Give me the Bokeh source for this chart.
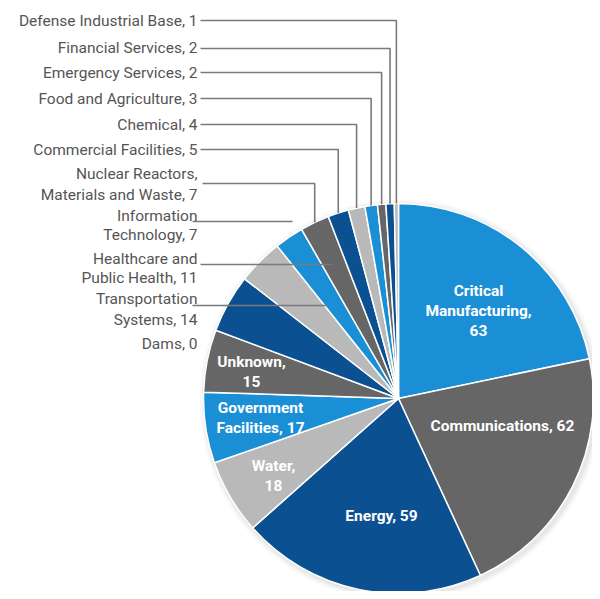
import math
from bokeh.plotting import figure
from bokeh.models import Range1d, ColumnDataSource
from bokeh.core.properties import value
from bokeh.embed import file_html
from bokeh.resources import INLINE

# ---------------- data ----------------
categories = ["Critical Manufacturing", "Communications", "Energy", "Water",
              "Government Facilities", "Unknown", "Transportation Systems",
              "Healthcare and Public Health", "Information Technology",
              "Nuclear Reactors, Materials and Waste", "Commercial Facilities",
              "Chemical", "Food and Agriculture", "Emergency Services",
              "Financial Services", "Defense Industrial Base", "Dams"]
counts = [63, 62, 59, 18, 17, 15, 14, 11, 7, 7, 5, 4, 3, 2, 2, 1, 0]
palette = ["#1b8fd6", "#666666", "#0b5091", "#b9b9b9"]

# label line splits (text content)
inside_lines = {
    "Critical Manufacturing": ["Critical", "Manufacturing,", "{v}"],
    "Communications": ["Communications, {v}"],
    "Energy": ["Energy, {v}"],
    "Water": ["Water,", "{v}"],
    "Government Facilities": ["Government", "Facilities, {v}"],
    "Unknown": ["Unknown,", "{v}"],
}
outside_lines = {
    "Defense Industrial Base": ["Defense Industrial Base, {v}"],
    "Financial Services": ["Financial Services, {v}"],
    "Emergency Services": ["Emergency Services, {v}"],
    "Food and Agriculture": ["Food and Agriculture, {v}"],
    "Chemical": ["Chemical, {v}"],
    "Commercial Facilities": ["Commercial Facilities, {v}"],
    "Nuclear Reactors, Materials and Waste": ["Nuclear Reactors,", "Materials and Waste, {v}"],
    "Information Technology": ["Information", "Technology, {v}"],
    "Healthcare and Public Health": ["Healthcare and", "Public Health, {v}"],
    "Transportation Systems": ["Transportation", "Systems, {v}"],
    "Dams": ["Dams, {v}"],
}

# ---------------- layout (image pixel coords) ----------------
W, H = 592, 591
IMG_H = 599
def Y(iy):
    return IMG_H - iy

CX, CY_IMG, R = 398, 398, 195
CY = Y(CY_IMG)

inside_pos = {
    "Critical Manufacturing": (478, [290, 310, 330]),
    "Communications": (502, [425]),
    "Energy": (381, [515]),
    "Water": (273, [465, 485]),
    "Government Facilities": (260, [407, 427]),
    "Unknown": (251, [361, 381]),
}
outside_y = {
    "Defense Industrial Base": [20],
    "Financial Services": [47],
    "Emergency Services": [72],
    "Food and Agriculture": [98],
    "Chemical": [124],
    "Commercial Facilities": [149],
    "Nuclear Reactors, Materials and Waste": [173, 194],
    "Information Technology": [215, 234],
    "Healthcare and Public Health": [258, 277],
    "Transportation Systems": [298, 319],
    "Dams": [343],
}
LABEL_RIGHT = 197
# elbow leaders: (horizontal y, start x) -> vertical at slice mid angle
elbow = {
    "Defense Industrial Base": (20, 200),
    "Financial Services": (48, 200),
    "Emergency Services": (72, 200),
    "Food and Agriculture": (98, 200),
    "Chemical": (124, 200),
    "Commercial Facilities": (149, 200),
    "Nuclear Reactors, Materials and Waste": (183, 202),
}
# straight leaders: (y, x0, x1)
straight = {
    "Information Technology": (221, 192, 292),
    "Healthcare and Public Health": (264, 200, 332),
    "Transportation Systems": (305, 192, 327),
}

p = figure(width=W, height=H, output_backend="svg", toolbar_location=None,
           x_range=Range1d(0, W), y_range=Range1d(IMG_H - H, IMG_H),
           min_border=0)
p.axis.visible = False
p.grid.visible = False
p.outline_line_color = None
p.background_fill_color = "white"
p.border_fill_color = "white"

total = sum(counts)
starts, ends, cols, mids = [], [], [], {}
cum = 0
for i, (c, v) in enumerate(zip(categories, counts)):
    a0 = math.pi / 2 - 2 * math.pi * cum / total
    cum += v
    a1 = math.pi / 2 - 2 * math.pi * cum / total
    mids[c] = (a0 + a1) / 2
    if v > 0:
        starts.append(a0)
        ends.append(a1)
        cols.append(palette[i % 4])

# soft shadow
for k, a in [(6, 0.05), (4, 0.07), (2, 0.09)]:
    p.circle(x=[CX + 2], y=[CY - 2], radius=R + k, fill_color="#888888",
             fill_alpha=a, line_color=None)

src = ColumnDataSource(dict(start=starts, end=ends, color=cols))
p.wedge(x=CX, y=CY, radius=R, start_angle="start", end_angle="end",
        direction="clock", fill_color="color", line_color="white",
        line_width=1.5, source=src)

# leader lines
xs, ys = [], []
for c, (hy, x0) in elbow.items():
    a = mids[c]
    vx = CX + R * math.cos(a)
    edge_y_img = CY_IMG - math.sqrt(max(R * R - (vx - CX) ** 2, 0))
    xs.append([x0, vx, vx])
    ys.append([Y(hy), Y(hy), Y(edge_y_img)])
for c, (hy, x0, x1) in straight.items():
    xs.append([x0, x1])
    ys.append([Y(hy), Y(hy)])
p.multi_line(xs=xs, ys=ys, line_color="#7a7a7a", line_width=1.6)

# outside labels
tx, ty, tt = [], [], []
for c, v in zip(categories, counts):
    if c in outside_lines:
        for line, iy in zip(outside_lines[c], outside_y[c]):
            tx.append(LABEL_RIGHT)
            ty.append(Y(iy))
            tt.append(line.format(v=v))
p.text(x=tx, y=ty, text=tt, text_align="right", text_baseline="middle",
       text_font=value("Roboto"), text_font_size="15.5px", text_color="#555555")

# inside labels
ix, iy_, it = [], [], []
for c, v in zip(categories, counts):
    if c in inside_lines:
        x, ylist = inside_pos[c]
        for line, yy in zip(inside_lines[c], ylist):
            ix.append(x)
            iy_.append(Y(yy))
            it.append(line.format(v=v))
p.text(x=ix, y=iy_, text=it, text_align="center", text_baseline="middle",
       text_font=value("Roboto"), text_font_size="15.5px", text_font_style="bold",
       text_color="white")

open("out.html", "w").write(file_html(p, INLINE))
